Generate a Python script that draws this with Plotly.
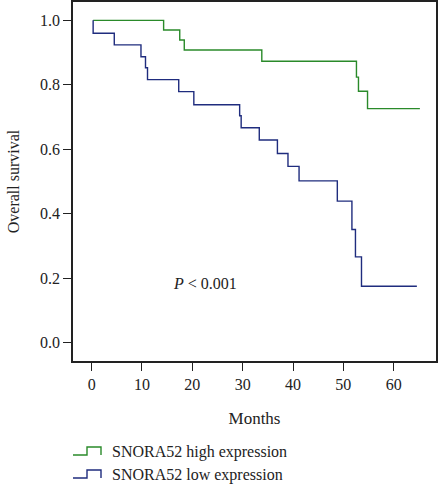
import plotly.graph_objects as go

# Kaplan-Meier step data (months, survival)
high_months = [0.3, 14.3, 17.5, 18.4, 33.8, 52.6, 53.0, 54.8, 65.2]
high_surv   = [1.0, 0.970, 0.939, 0.908, 0.873, 0.824, 0.780, 0.726, 0.726]

low_months = [0.3, 0.3, 4.5, 9.8, 10.7, 11.1, 17.3, 20.3, 29.4, 29.7, 33.3, 36.9, 39.0, 41.2, 48.8, 51.7, 52.4, 53.6, 64.6]
low_surv   = [1.0, 0.960, 0.924, 0.887, 0.853, 0.816, 0.779, 0.738, 0.704, 0.667, 0.629, 0.587, 0.547, 0.502, 0.439, 0.351, 0.266, 0.175, 0.175]

x_ticks = [0, 10, 20, 30, 40, 50, 60]
y_ticks = [0.0, 0.2, 0.4, 0.6, 0.8, 1.0]

GREEN = "#2a8a2a"
BLUE = "#1f2c7e"
FONT = "Liberation Serif"

fig = go.Figure()
fig.add_trace(go.Scatter(x=high_months, y=high_surv, mode="lines", line=dict(shape="hv", color=GREEN, width=1.4),
                         name="SNORA52 high expression", showlegend=False, hoverinfo="skip"))
fig.add_trace(go.Scatter(x=low_months, y=low_surv, mode="lines", line=dict(shape="hv", color=BLUE, width=1.4),
                         name="SNORA52 low expression", showlegend=False, hoverinfo="skip"))

W, H = 438, 484
L, R, T, B = 73, 2, 2, 123
pw, ph = W - L - R, H - T - B

def px(xp):
    return (xp - L) / pw

def py(yp):
    return (H - B - yp) / ph

# legend with step icons
legend_items = [("SNORA52 high expression", GREEN, 455), ("SNORA52 low expression", BLUE, 478)]
for label, color, ybase in legend_items:
    path = "M {x0},{y0} L {x1},{y0} L {x1},{y1} L {x2},{y1} L {x2},{y0}".format(
        x0=px(73), x1=px(87), x2=px(101), y0=py(ybase), y1=py(ybase - 8))
    fig.add_shape(type="path", path=path, xref="paper", yref="paper",
                  line=dict(color=color, width=1.4))
    fig.add_annotation(text=label, xref="paper", yref="paper", x=px(110), y=py(ybase - 3),
                       xanchor="left", yanchor="middle", showarrow=False,
                       font=dict(family=FONT, size=16, color="#222"))

fig.add_annotation(text="<i>P</i> < 0.001", x=22.6, y=0.184, showarrow=False,
                   font=dict(family=FONT, size=16, color="#222"))

fig.update_layout(
    width=W, height=H,
    margin=dict(l=L, r=R, t=T, b=B, autoexpand=False),
    plot_bgcolor="white", paper_bgcolor="white",
    font=dict(family=FONT, size=16, color="#222"),
    showlegend=False,
)
fig.update_xaxes(range=[-3.7, 68.4], tickvals=x_ticks, ticks="outside", ticklen=8, tickwidth=1.2,
                 tickcolor="#222", showline=True, linecolor="#222", linewidth=1.5, mirror=True,
                 showgrid=False, zeroline=False, tickfont=dict(size=16), automargin=False,
                 title=dict(text="Months", font=dict(size=17), standoff=20))
fig.update_yaxes(range=[-0.057, 1.057], tickvals=y_ticks, tickformat=".1f", ticks="outside", ticklen=8,
                 tickwidth=1.2, tickcolor="#222", showline=True, linecolor="#222", linewidth=1.5, mirror=True,
                 showgrid=False, zeroline=False, tickfont=dict(size=16), automargin=False,
                 title=dict(text="Overall survival", font=dict(size=16), standoff=16))

fig.write_html("out.html", config={"displayModeBar": False},
               post_script="document.body.style.margin='0';document.body.style.padding='0';")
